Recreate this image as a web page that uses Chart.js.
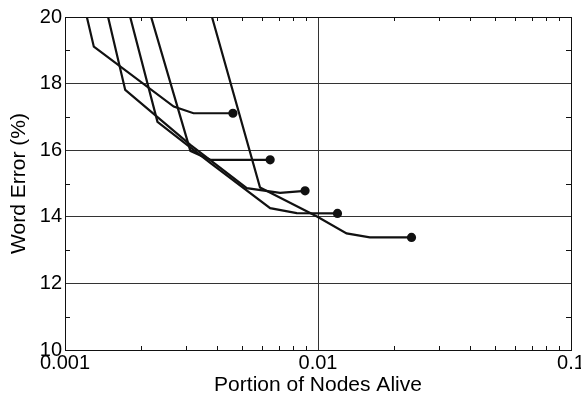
<!DOCTYPE html>
<html>
<head>
<meta charset="utf-8">
<script src="https://cdn.jsdelivr.net/npm/chart.js@4"></script>
<style>
  html, body { margin: 0; padding: 0; background: #fff; }
  #wrap { width: 581px; height: 396px; }
</style>
</head>
<body>
<div id="wrap"><canvas id="errChart"></canvas></div>
<script>
// values (x = portion of nodes alive, y = word error %)
const curveA_x = [0.00122, 0.00130, 0.00269, 0.00322, 0.00461];
const curveA_y = [20.0, 19.11, 17.31, 17.11, 17.11];

const curveB_x = [0.00148, 0.00173, 0.00313, 0.00523, 0.00708, 0.00889];
const curveB_y = [20.0, 17.81, 16.16, 14.86, 14.72, 14.78];

const curveC_x = [0.00181, 0.00232, 0.00375, 0.00647, 0.00824, 0.01194];
const curveC_y = [20.0, 16.85, 15.62, 14.26, 14.11, 14.10];

const curveD_x = [0.00219, 0.00313, 0.00375, 0.00647];
const curveD_y = [20.0, 15.98, 15.71, 15.71];

const curveE_x = [0.00381, 0.00590, 0.00991, 0.01297, 0.01603, 0.02342];
const curveE_y = [20.0, 14.88, 14.01, 13.50, 13.38, 13.38];

const xTickLabels = [0.001, 0.01, 0.1];
const yTickLabels = [10, 12, 14, 16, 18, 20];
const xMinorTicks = [0.002, 0.003, 0.004, 0.005, 0.006, 0.007, 0.008, 0.009,
                     0.02, 0.03, 0.04, 0.05, 0.06, 0.07, 0.08, 0.09];
const yMinorTicks = [11, 13, 15, 17, 19];

const ink = "#111";

function makeSet(xs, ys) {
  return {
    data: xs.map((x, i) => ({ x: x, y: ys[i] })),
    borderColor: ink,
    backgroundColor: ink,
    borderWidth: 2.2,
    tension: 0,
    fill: false,
    pointRadius: xs.map((_, i) => (i === xs.length - 1 ? 3.5 : 0)),
    pointHoverRadius: 0
  };
}

// frame around the plot plus small inward ticks on all four sides
const frameTicks = {
  id: "frameTicks",
  afterDraw(chart) {
    const ctx = chart.ctx;
    const a = chart.chartArea;
    const xs = chart.scales.x;
    const ys = chart.scales.y;
    ctx.save();
    ctx.strokeStyle = ink;
    ctx.lineWidth = 1;
    ctx.strokeRect(Math.round(a.left) + 0.5, Math.round(a.top) + 0.5,
                   Math.round(a.width), Math.round(a.height));
    ctx.beginPath();
    xMinorTicks.forEach(v => {
      const px = Math.round(xs.getPixelForValue(v)) + 0.5;
      ctx.moveTo(px, a.bottom); ctx.lineTo(px, a.bottom - 4);
      ctx.moveTo(px, a.top); ctx.lineTo(px, a.top + 4);
    });
    yMinorTicks.forEach(v => {
      const py = Math.round(ys.getPixelForValue(v)) + 0.5;
      ctx.moveTo(a.left, py); ctx.lineTo(a.left + 5, py);
      ctx.moveTo(a.right, py); ctx.lineTo(a.right - 5, py);
    });
    ctx.stroke();
    ctx.restore();
  }
};

const family = "'Liberation Sans', Arial, sans-serif";
const tickFont = { family: family, size: 20 };
const titleFont = { family: family, size: 21, lineHeight: 1 };

new Chart(document.getElementById("errChart").getContext("2d"), {
  type: "line",
  data: {
    datasets: [
      makeSet(curveA_x, curveA_y),
      makeSet(curveB_x, curveB_y),
      makeSet(curveC_x, curveC_y),
      makeSet(curveD_x, curveD_y),
      makeSet(curveE_x, curveE_y)
    ]
  },
  options: {
    responsive: true,
    maintainAspectRatio: false,
    animation: false,
    events: [],
    layout: { padding: { top: 17, right: 0, left: 0, bottom: 0 } },
    plugins: {
      legend: { display: false },
      tooltip: { enabled: false }
    },
    scales: {
      x: {
        type: "logarithmic",
        min: 0.001,
        max: 0.1,
        afterBuildTicks: scale => {
          scale.ticks = xTickLabels.map(v => ({ value: v }));
        },
        afterFit: scale => {
          scale.height = 46;
          scale.paddingLeft = 0;
          scale.paddingRight = 10;
        },
        ticks: {
          color: "#000",
          font: tickFont,
          padding: 1,
          maxRotation: 0,
          autoSkip: false,
          callback: v => String(v)
        },
        grid: {
          drawTicks: false,
          color: ctx => (ctx.tick && ctx.tick.value === 0.01 ? "#333" : "rgba(0,0,0,0)"),
          lineWidth: 1
        },
        border: { display: false },
        title: {
          display: true,
          text: "Portion of Nodes Alive",
          color: "#000",
          font: titleFont,
          padding: { top: 0, bottom: 0 }
        }
      },
      y: {
        min: 10,
        max: 20,
        afterBuildTicks: scale => {
          scale.ticks = yTickLabels.map(v => ({ value: v }));
        },
        afterFit: scale => { scale.width = 65; },
        ticks: {
          color: "#000",
          font: tickFont,
          padding: 3,
          autoSkip: false
        },
        grid: {
          drawTicks: false,
          color: ctx => (ctx.tick && ctx.tick.value > 10 && ctx.tick.value < 20 ? "#333" : "rgba(0,0,0,0)"),
          lineWidth: 1
        },
        border: { display: false },
        title: {
          display: true,
          text: "Word Error (%)",
          color: "#000",
          font: titleFont,
          padding: { top: 9, bottom: 0 }
        }
      }
    }
  },
  plugins: [frameTicks]
});
</script>
</body>
</html>
